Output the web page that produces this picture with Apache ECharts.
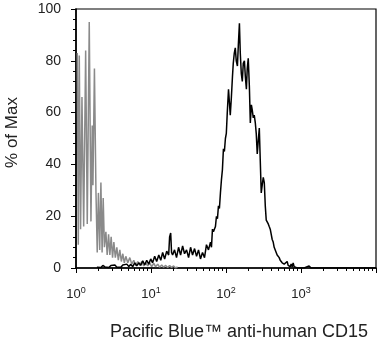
<!DOCTYPE html>
<html><head><meta charset="utf-8">
<style>html,body{margin:0;padding:0;background:#fff}#chart{width:380px;height:341px}</style>
<script src="https://cdn.jsdelivr.net/npm/echarts@6/dist/echarts.min.js"></script>
</head><body><div id="chart"></div>
<script>
// Isotype control (gray) histogram: fluorescence value and % of max
const isotypeFluor = [1.040,1.073,1.106,1.151,1.201,1.266,1.345,1.413,1.502,1.582,1.646,1.682,1.761,1.844,1.919,1.990,2.071,2.148,2.228,2.305,2.391,2.503,2.604,2.718,2.828,2.943,3.072,3.197,3.346,3.503,3.667,3.840,4.021,4.209,4.407,4.614,4.905,5.214,5.542,5.891,6.263,6.66,7.08,7.52,8.00,8.50,9.04,9.61,10.2,10.9,11.5,12.3,13.0,13.9,14.7,15.7,16.7,17.7,18.8,20.0,21.3,22.6];
const isotypePct   = [83,9,82,15,66,16,84,17,95,18,55,32,77,30,6,29,7,33,6,27,8,14,5,13,5,12,4,10,4,8,3,7,2.5,5.5,2,4.5,2,4,1.5,3,1,2.5,1,2.5,0.8,2,0.8,2,0.5,1.8,0.5,1.5,0.3,1.2,0.3,1,0.2,1,0.2,0.8,0,0.4];

// Pacific Blue anti-human CD15 (black) histogram
const cd15Fluor = [1.90,2.02,2.15,2.28,2.43,2.58,2.74,2.92,3.10,3.30,3.50,3.72,3.96,4.21,4.47,4.76,5.06,5.38,5.71,6.07,6.46,6.87,7.30,7.76,8.25,8.77,9.32,9.91,10.5,11.2,11.9,12.7,13.5,14.3,15.2,16.2,17.2,17.7,18.3,18.8,19.4,20.6,21.9,23.3,24.8,26.4,28.0,29.8,31.7,33.7,35.8,38.1,40.5,43.0,45.7,48.6,51.7,54.9,58.4,62.1,64.0,
  66.0,68.0,70.2,72.3,74.6,76.9,79.3,81.7,84.3,86.9,89.6,92.4,95.2,98.2,101,104,108,111,114,118,122,125,129,133,137,142,146,151,155,160,165,170,176,181,187,192,198,205,211,218,224,231,238,246,253,261,269,278,286,295,304,314,324,334,344,355,366,377,389,401,413,426,439,453,467,481,496,512,528,544,561,578,597,615,634,654,674,695,717,739,762,786,810,835,861,888,
  1100,1282,1361,1738,2090,2222,2361,3735,10000];
const cd15Pct = [0.3,0.8,0.2,1,0.4,0.8,0.2,1,0.4,1.2,0.3,0.8,0.3,1.2,0.5,1.5,0.6,1.4,0.5,2,0.8,2,1,2.8,1.2,3,1.5,3.5,2,4.5,2.5,5,3,6,3.5,6.5,5,12,13.5,6,5,7,4,8,5,8.5,5.5,7,4,8,5,7.5,4.5,7,3.5,6,4,9,7,10,8,
  15,14,14,16,20,19,24,23,29,34,38,46,45,50,52,60,69,64,59,66,74,79,83,85,80,78,86,94.5,83,75,72,79,80,74,69,77,81,70,56,63,61,58,59,56,52,44,49,54,42,29,32,35,33,24,18.5,19,17,16,15,13,11,10,8,8.5,6,5,5.5,4,3,3.5,2,2.5,1.5,2,1,2.5,1,1.5,0.5,1.5,0.5,2,0.5,1,0.3,0,
  0,0.8,0,0,0,0.6,0,0,0];

const decadeLabels = ['10{s|0}','10{s|1}','10{s|2}','10{s|3}',''];
const minorTickValues = [2,3,4,5,6,7,8,9,20,30,40,50,60,70,80,90,200,300,400,500,600,700,800,900,2000,3000,4000,5000,6000,7000,8000,9000];
const xTitle = 'Pacific Blue™ anti-human CD15';
const yTitle = '% of Max';

const zip = (xs, ys) => xs.map((x, i) => [x, ys[i]]);
const font = 'Liberation Sans, Arial, Helvetica, sans-serif';
const chart = echarts.init(document.getElementById('chart'), null, {renderer: 'canvas'});
chart.setOption({
  animation: false,
  backgroundColor: '#fff',
  grid: {left: 76, right: 4, top: 9, bottom: 73, show: true, borderColor: '#000', borderWidth: 1.2, containLabel: false, outerBoundsMode: 'none'},
  xAxis: [{
    type: 'log', logBase: 10, min: 1, max: 10000,
    name: xTitle, nameLocation: 'middle', nameGap: 55,
    nameTextStyle: {fontFamily: font, fontSize: 18, color: '#222', padding: [0,0,0,26]},
    axisLine: {show: true, lineStyle: {color: '#000', width: 1.6}},
    axisTick: {show: true, inside: false, length: 5, lineStyle: {color: '#000', width: 1}},
    splitLine: {show: false},
    axisLabel: {
      margin: 18, fontFamily: font, fontSize: 13, color: '#222', lineHeight: 16,
      formatter: v => decadeLabels[Math.round(Math.log10(v))] || '',
      rich: {s: {fontFamily: font, fontSize: 9, color: '#222', verticalAlign: 'top', lineHeight: 8}}
    }
  }, {
    type: 'log', logBase: 10, min: 1, max: 10000, position: 'bottom', gridIndex: 0,
    axisLine: {show: false},
    axisTick: {show: true, inside: false, length: 3, customValues: minorTickValues, lineStyle: {color: '#000', width: 1}},
    axisLabel: {show: false},
    splitLine: {show: false}
  }],
  yAxis: {
    type: 'value', min: 0, max: 100, interval: 20,
    name: yTitle, nameLocation: 'middle', nameGap: 55,
    nameTextStyle: {fontFamily: font, fontSize: 17, color: '#222', padding: [0,0,0,12]},
    axisLine: {show: true, lineStyle: {color: '#000', width: 1.6}},
    axisTick: {show: true, inside: false, length: 5, lineStyle: {color: '#000', width: 1}},
    minorTick: {show: true, splitNumber: 5, length: 3, lineStyle: {color: '#000', width: 1}},
    splitLine: {show: false},
    axisLabel: {margin: 15, fontFamily: font, fontSize: 14, color: '#222'}
  },
  series: [{
    type: 'line', name: 'Isotype', data: zip(isotypeFluor, isotypePct),
    showSymbol: false, symbol: 'none', smooth: false, clip: true,
    lineStyle: {color: '#8a8a8a', width: 1.5}, z: 2
  }, {
    type: 'line', name: 'CD15', data: zip(cd15Fluor, cd15Pct),
    showSymbol: false, symbol: 'none', smooth: false, clip: true,
    lineStyle: {color: '#000', width: 1.5}, z: 3
  }]
});
</script></body></html>
